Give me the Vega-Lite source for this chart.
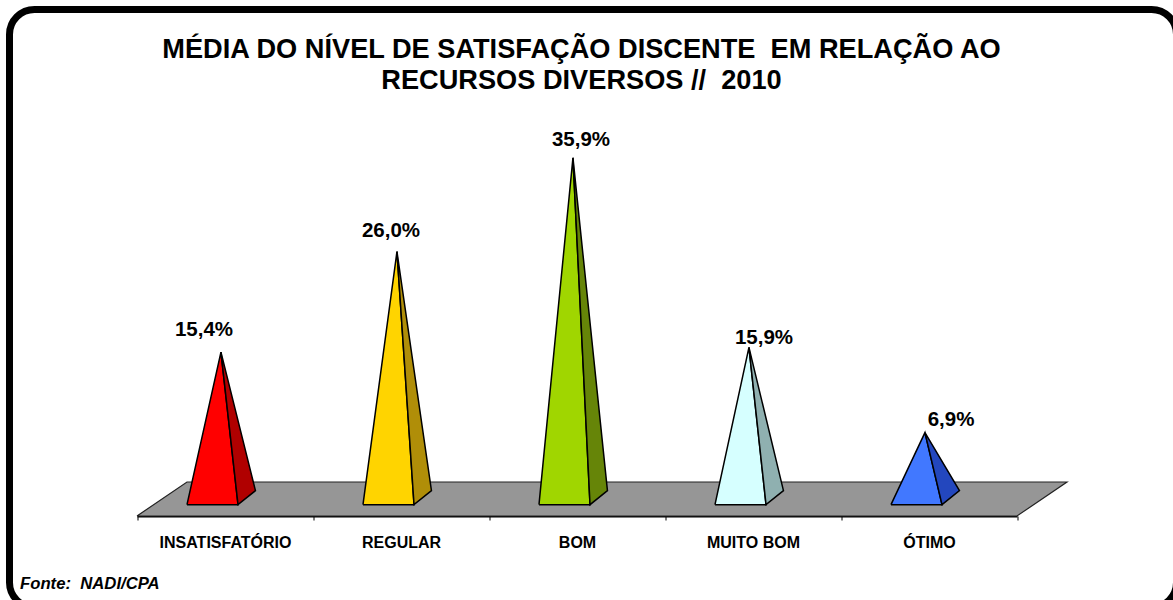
{
"$schema":"https://vega.github.io/schema/vega-lite/v6.json",
"width":1167,"height":598,
"autosize":{"type":"none"},
"padding":{"left":9.5,"top":9.5,"right":0,"bottom":0},
"background":"white",
"view":{"stroke":"black","strokeWidth":7,"cornerRadius":25,"fill":"white"},
"config":{"font":"Liberation Sans"},
"title":{"text":["MÉDIA DO NÍVEL DE SATISFAÇÃO DISCENTE \u00a0EM RELAÇÃO AO","RECURSOS DIVERSOS // \u00a02010"],"font":"Liberation Sans","fontWeight":"bold","fontSize":27.2,"lineHeight":31,"color":"black","anchor":"middle","frame":"group","offset":-86,"dx":-11.5},
"data":{"values":[
{"categoria":"INSATISFATÓRIO","valor":15.4},
{"categoria":"REGULAR","valor":26.0},
{"categoria":"BOM","valor":35.9},
{"categoria":"MUITO BOM","valor":15.9},
{"categoria":"ÓTIMO","valor":6.9}
]},
"resolve":{"scale":{"x":"independent","fill":"independent"}},
"layer":[
{
"data":{"values":[{"plano":"base"}]},
"transform":[
{"calculate":"[0,5,5.284,0.284,0]","as":"vx"},
{"calculate":"[-1.9,-1.9,1.69,1.69,-1.9]","as":"vy"},
{"calculate":"[0,1,2,3,4]","as":"vi"},
{"flatten":["vx","vy","vi"]}
],
"mark":{"type":"line","fill":"#969696","stroke":"#222222","strokeWidth":1.2},
"encoding":{
"x":{"field":"vx","type":"quantitative","scale":{"domain":[0,5],"range":[127.5,1007.5]},"axis":null},
"y":{"field":"vy","type":"quantitative","scale":{"domain":[-1.9,40],"range":[506.5,109.5]},"axis":null},
"order":{"field":"vi","type":"quantitative"}
}
},
{
"transform":[
{"window":[{"op":"row_number","as":"n"}]},
{"calculate":"[-0.216,-0.023,0.074,-0.216]","as":"dx"},
{"calculate":"[-0.7,datum.valor,-0.7,-0.7]","as":"vy"},
{"calculate":"[0,1,2,3]","as":"vi"},
{"flatten":["dx","vy","vi"]},
{"calculate":"datum.n-0.5+datum.dx","as":"vx"}
],
"mark":{"type":"line","stroke":"black","strokeWidth":1.5,"strokeJoin":"miter"},
"encoding":{
"x":{"field":"vx","type":"quantitative","scale":{"domain":[0,5],"range":[127.5,1007.5]},"axis":null},
"y":{"field":"vy","type":"quantitative","scale":{"domain":[-1.9,40],"range":[506.5,109.5]},"axis":null},
"fill":{"field":"categoria","type":"nominal","legend":null,"scale":{"domain":["INSATISFATÓRIO","REGULAR","BOM","MUITO BOM","ÓTIMO"],"range":["#FF0000","#FFD400","#A0D600","#D6FFFF","#4178FF"]}},
"detail":{"field":"categoria"},
"order":{"field":"vi","type":"quantitative"}
}
},
{
"transform":[
{"window":[{"op":"row_number","as":"n"}]},
{"calculate":"[-0.023,0.074,0.173,-0.023]","as":"dx"},
{"calculate":"[datum.valor,-0.7,0.78,datum.valor]","as":"vy"},
{"calculate":"[0,1,2,3]","as":"vi"},
{"flatten":["dx","vy","vi"]},
{"calculate":"datum.n-0.5+datum.dx","as":"vx"}
],
"mark":{"type":"line","stroke":"black","strokeWidth":1.5,"strokeJoin":"miter"},
"encoding":{
"x":{"field":"vx","type":"quantitative","scale":{"domain":[0,5],"range":[127.5,1007.5]},"axis":null},
"y":{"field":"vy","type":"quantitative","scale":{"domain":[-1.9,40],"range":[506.5,109.5]},"axis":null},
"fill":{"field":"categoria","type":"nominal","legend":null,"scale":{"domain":["INSATISFATÓRIO","REGULAR","BOM","MUITO BOM","ÓTIMO"],"range":["#B00000","#B08E08","#668508","#8FB0B0","#2347BE"]}},
"detail":{"field":"categoria"},
"order":{"field":"vi","type":"quantitative"}
}
},
{
"transform":[
{"window":[{"op":"row_number","as":"n"}]},
{"calculate":"[-21,-10,4,11,22][datum.n-1]","as":"ox"},
{"calculate":"datum.valor+[2.43,2.32,2.0,1.05,1.48][datum.n-1]","as":"ly"},
{"calculate":"replace(format(datum.valor,'.1f'),'.',',')+'%'","as":"rotulo"}
],
"mark":{"type":"text","font":"Liberation Sans","fontWeight":"bold","fontSize":20.5,"color":"black","baseline":"middle","align":"center","dy":1},
"encoding":{
"x":{"field":"categoria","type":"nominal","sort":null,
"scale":{"type":"band","domain":["INSATISFATÓRIO","REGULAR","BOM","MUITO BOM","ÓTIMO"],"range":[127.5,1007.5],"paddingInner":0,"paddingOuter":0},
"axis":{"orient":"bottom","offset":-91.5,"labelAngle":0,"tickBand":"extent","domainColor":"black","domainWidth":2,"tickColor":"black","tickSize":4,"tickWidth":1,"labelFont":"Liberation Sans","labelFontWeight":"bold","labelFontSize":16,"labelColor":"black","labelPadding":14,"grid":false,
"title":"Fonte: \u00a0NADI/CPA","titleFont":"Liberation Sans","titleFontWeight":"bold","titleFontStyle":"italic","titleFontSize":16.7,"titleColor":"black","titleAlign":"left","titleAnchor":"start","titleX":10,"titleY":67,"titleBaseline":"middle"}},
"xOffset":{"field":"ox","type":"quantitative","scale":{"domain":[-88,88],"range":[0,176]}},
"y":{"field":"ly","type":"quantitative","scale":{"domain":[-1.9,40],"range":[506.5,109.5]},"axis":null},
"text":{"field":"rotulo"}
}
}
]
}
